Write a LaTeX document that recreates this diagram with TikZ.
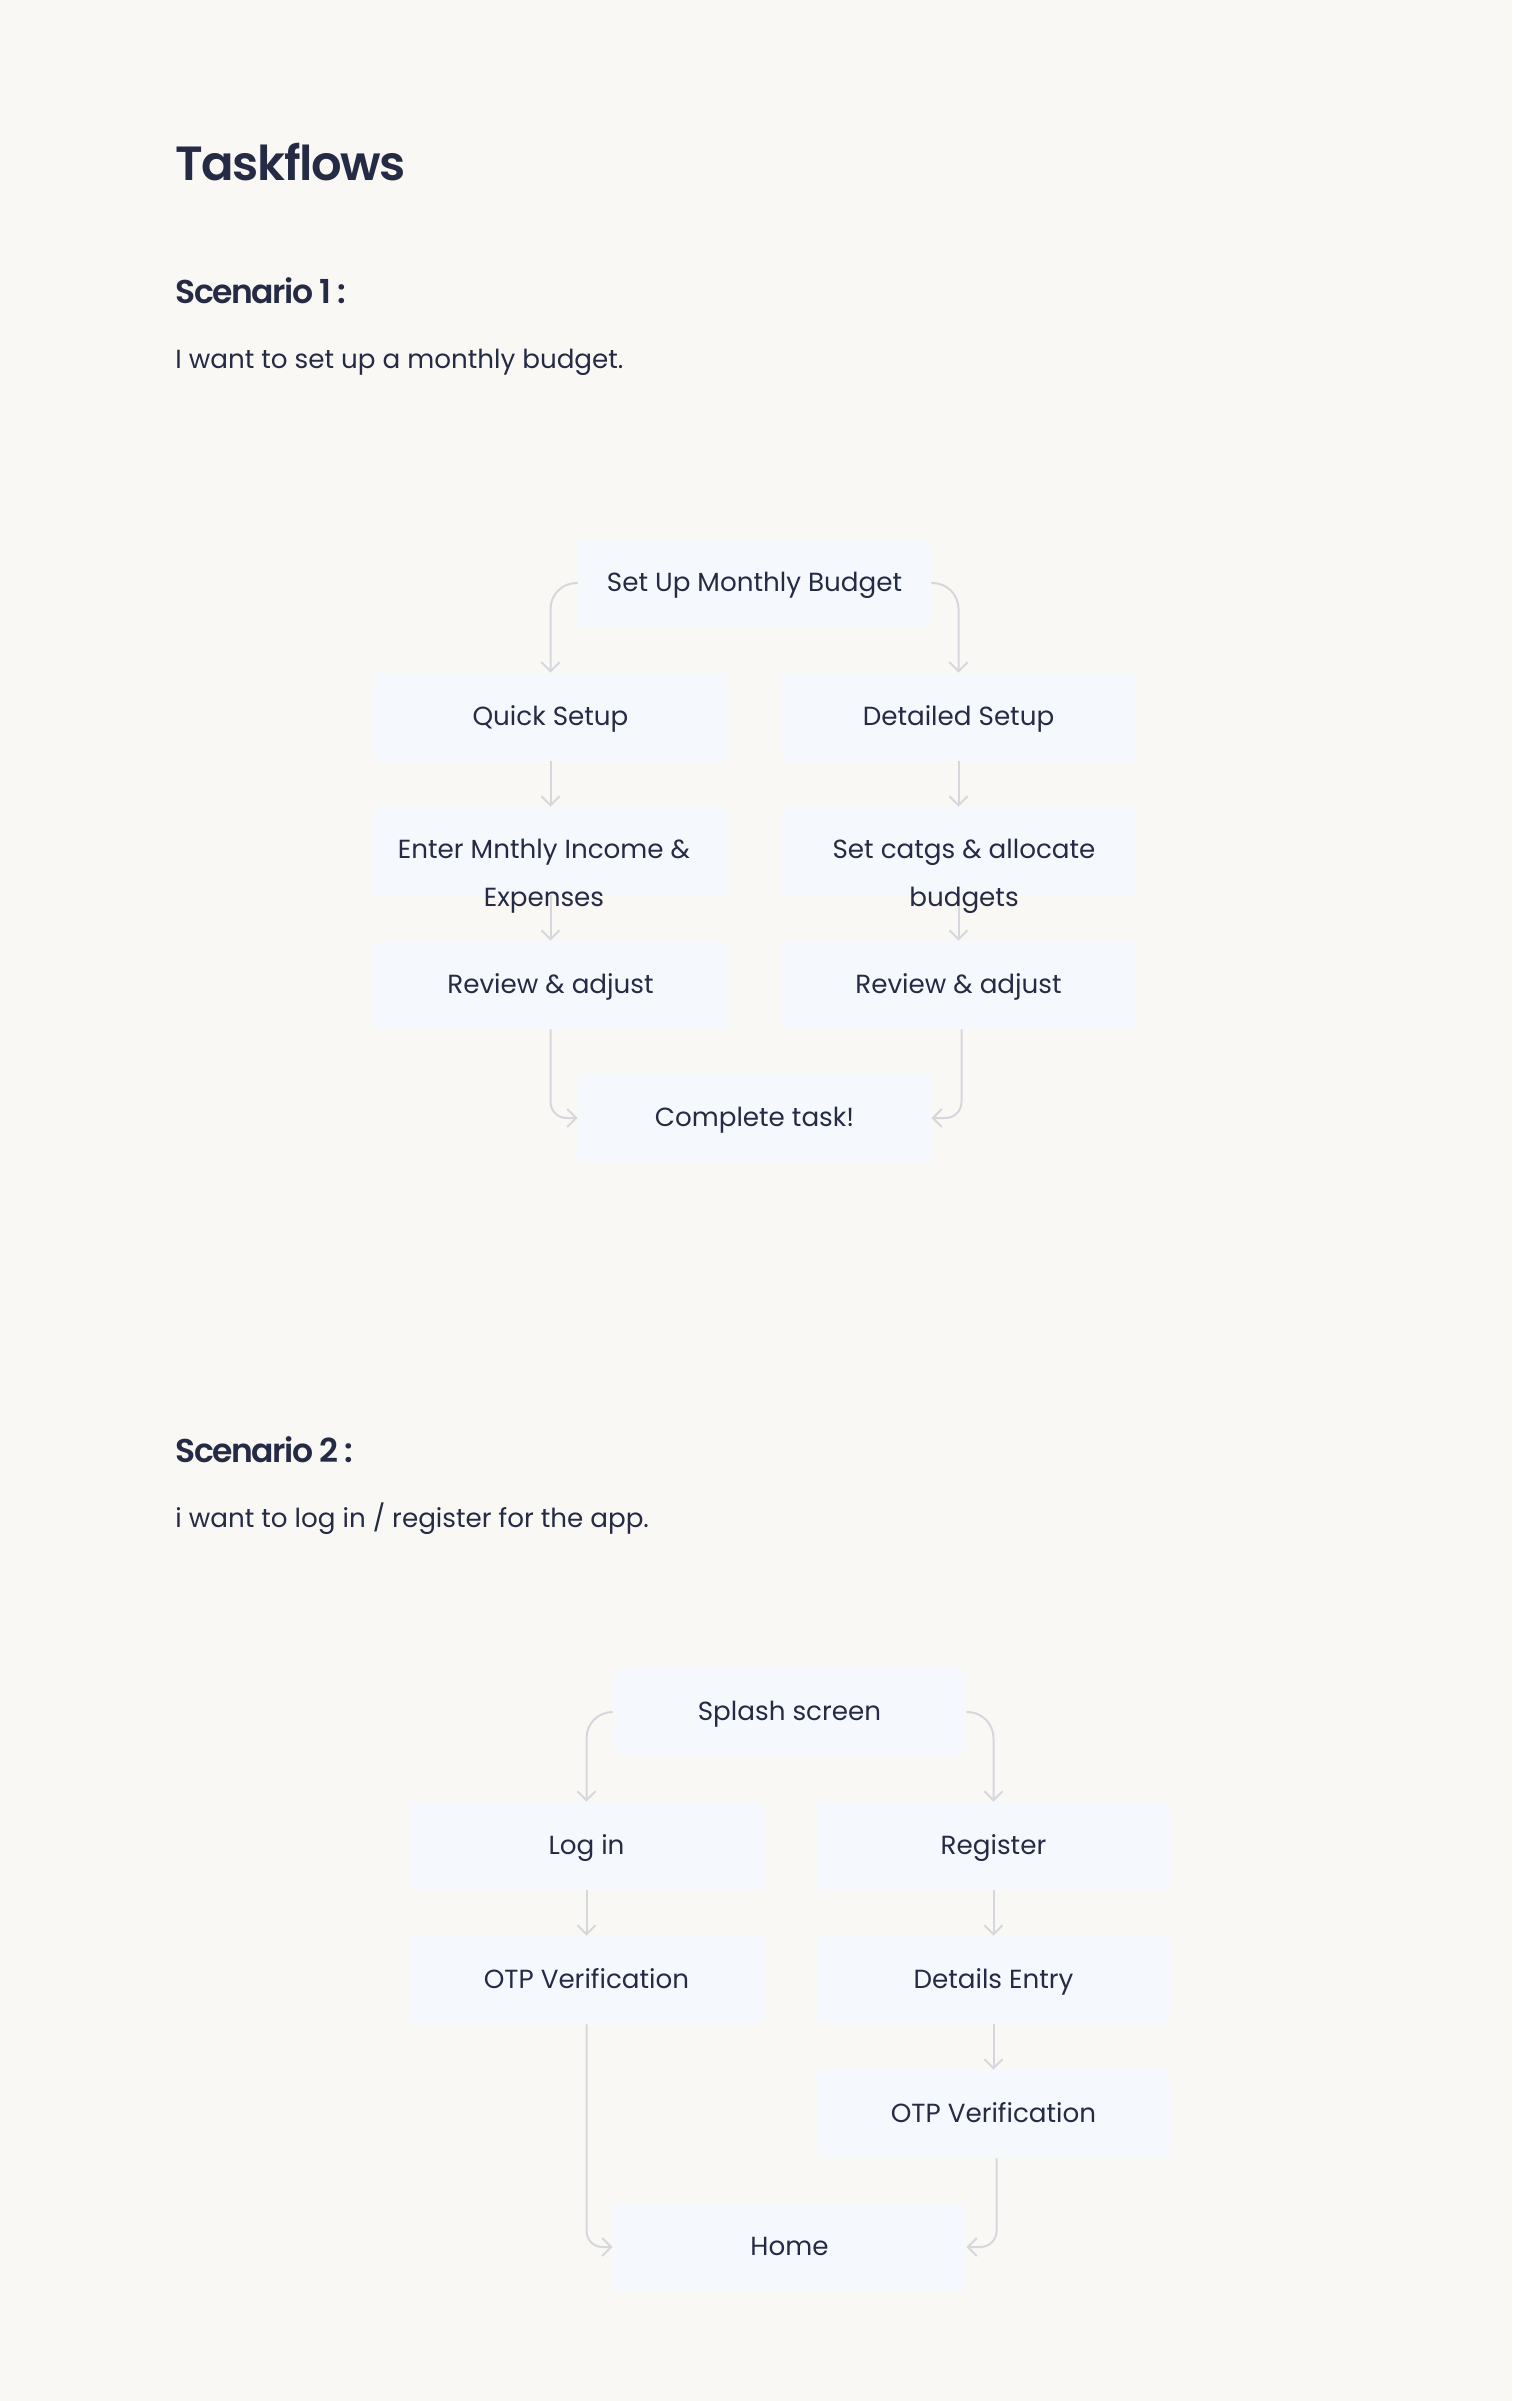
\documentclass[tikz,border=0pt]{standalone}
\usepackage{fontspec}
\setmainfont{Poppins}
\IfFontExistsTF{Poppins SemiBold}{\newfontfamily\semib{Poppins SemiBold}}{\newcommand\semib{\bfseries}}
\usetikzlibrary{arrows.meta}
\definecolor{bgc}{HTML}{F9F8F5}
\definecolor{boxc}{HTML}{F5F8FD}
\definecolor{txtc}{HTML}{262B45}
\definecolor{linec}{HTML}{D5D7DD}
\tikzset{
  box/.style={fill=boxc, minimum width=176.5pt, minimum height=44pt, inner sep=0pt, text=txtc,
    font=\fontsize{13.1}{24}\selectfont, text height=0.9em, text depth=0.1em},
  lbl/.style={text=txtc, align=center, inner sep=0pt, font=\fontsize{13.1}{24}\selectfont},
  conn/.style={draw=linec, line width=1pt, -{Straight Barb[length=4.5pt,width=9pt,line width=1pt]}},
  topconn/.style={conn, rounded corners=13pt},
  botconn/.style={conn, rounded corners=8pt},
  heading/.style={text=txtc, anchor=base west, inner sep=0pt},
}
\begin{document}
\begin{tikzpicture}[x=0.5pt, y=-0.5pt]
\fill[bgc] (0,0) rectangle (1512,2401);
\useasboundingbox (0,0) rectangle (1512,2401);

\node[heading, font=\fontsize{24}{30}\selectfont\semib\addfontfeature{LetterSpace=-3}] (title) at (175,181) {Taskflows};
\node[heading, font=\fontsize{16.5}{20}\selectfont\semib\addfontfeature{LetterSpace=-4.5}] (sc1) at (175,304) {Scenario 1 :};
\node[heading, font=\fontsize{13.1}{16}\selectfont] (d1) at (175,369) {I want to set up a monthly budget.};

% Scenario 1
\node[box] (s) at (754.5,583) {Set Up Monthly Budget};
\node[box] (q) at (550.5,717) {Quick Setup};
\node[box] (d) at (958.5,717) {Detailed Setup};
\node[box] (e1) at (550.5,851) {};
\node[box] (e2) at (958.5,851) {};
\node[box] (r1) at (550.5,985) {Review \& adjust};
\node[box] (r2) at (958.5,985) {Review \& adjust};
\node[box] (c) at (754.5,1118) {Complete task!};

\draw[topconn] (s.west) -| (q.north);
\draw[topconn] (s.east) -| (d.north);
\draw[conn] (q.south) -- (e1.north);
\draw[conn] (d.south) -- (e2.north);
\draw[conn] (e1.south) -- (r1.north);
\draw[conn] (e2.south) -- (r2.north);
\draw[botconn] (r1.south) |- (c.west);
\draw[botconn] ([xshift=1.5pt]r2.south) |- (c.east);

\node[lbl] (e1t) at ([xshift=-3.25pt,yshift=-12.6pt]e1.center) {Enter Mnthly Income \&\\Expenses};
\node[lbl] (e2t) at ([xshift=2.75pt,yshift=-12.6pt]e2.center) {Set catgs \& allocate\\budgets};

% Scenario 2
\node[heading, font=\fontsize{16.5}{20}\selectfont\semib\addfontfeature{LetterSpace=-4.5}] (sc2) at (175,1462) {Scenario 2 :};
\node[heading, font=\fontsize{13.1}{16}\selectfont] (d2) at (175,1527) {i want to log in / register for the app.};

\node[box] (sp) at (789.5,1712) {Splash screen};
\node[box] (li) at (586.5,1846) {Log in};
\node[box] (rg) at (993.5,1846) {Register};
\node[box] (o1) at (586.5,1980) {OTP Verification};
\node[box] (de) at (993.5,1980) {Details Entry};
\node[box] (o2) at (993.5,2114) {OTP Verification};
\node[box] (h) at (789.5,2247) {Home};

\draw[topconn] (sp.west) -| (li.north);
\draw[topconn] (sp.east) -| (rg.north);
\draw[conn] (li.south) -- (o1.north);
\draw[conn] (rg.south) -- (de.north);
\draw[conn] (de.south) -- (o2.north);
\draw[botconn] (o1.south) |- (h.west);
\draw[botconn] ([xshift=1.5pt]o2.south) |- (h.east);
\end{tikzpicture}
\end{document}
